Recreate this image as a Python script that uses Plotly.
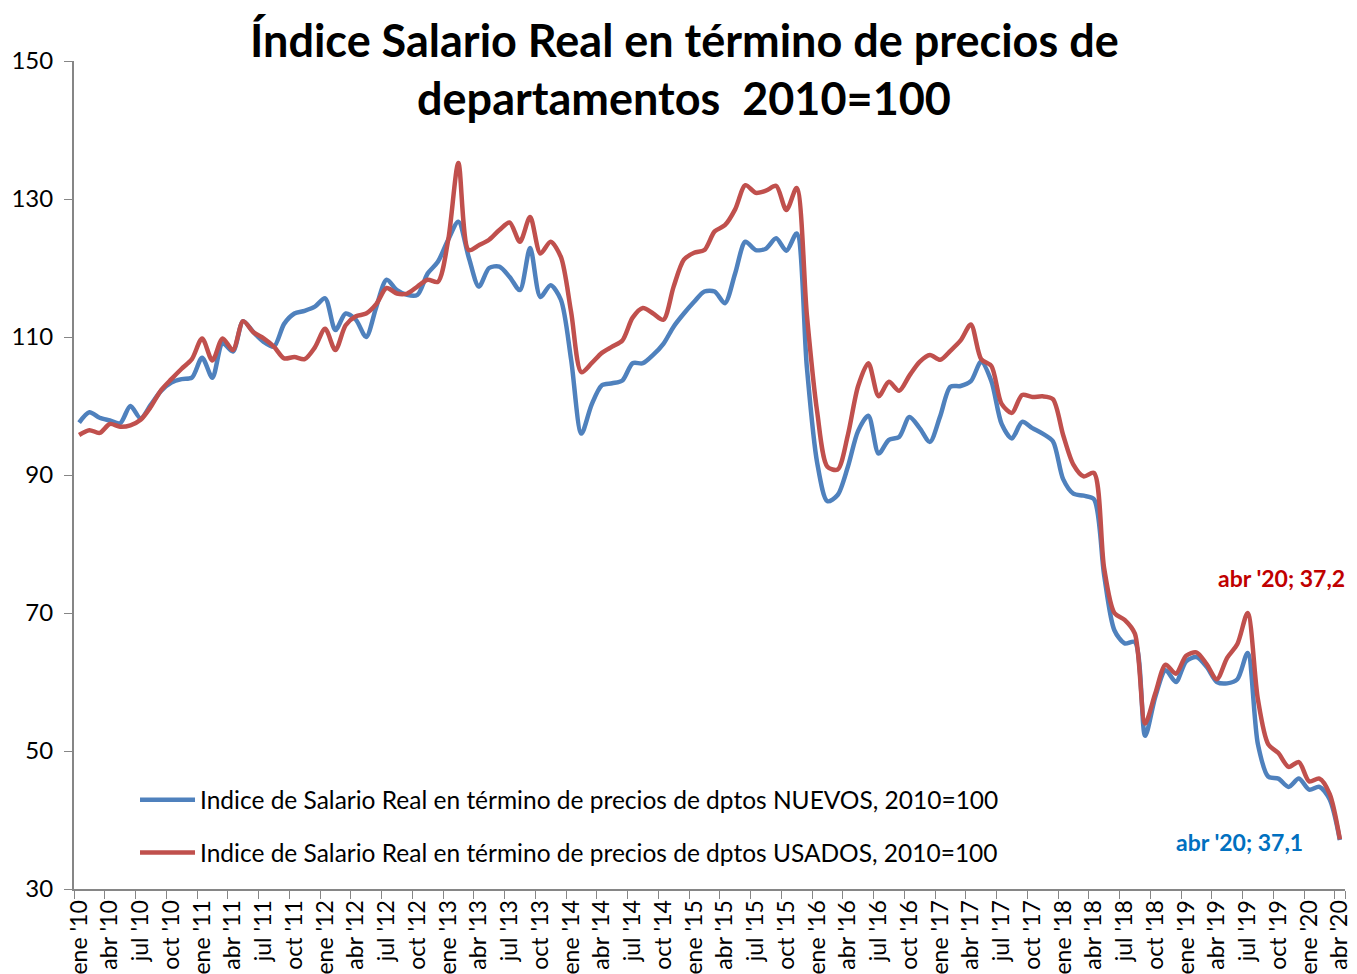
import plotly.graph_objects as go

months_es = ["ene", "feb", "mar", "abr", "may", "jun", "jul", "ago", "sep", "oct", "nov", "dic"]
years = list(range(2010, 2021))
months = [f"{m} '{str(y)[2:]}" for y in years for m in months_es][:124]

nuevos = [
    97.6, 99.1, 98.3, 97.9, 97.5, 100.0, 98.2, 100.2, 102.2, 103.4, 103.9, 104.1,
    107.0, 104.1, 109.1, 107.9, 112.3, 110.7, 109.3, 108.6, 111.9, 113.4, 113.8, 114.4,
    115.6, 111.0, 113.4, 112.5, 110.0, 114.4, 118.3, 116.8, 116.1, 116.1, 119.2, 120.9,
    124.1, 126.7, 121.6, 117.3, 120.0, 120.2, 118.7, 116.8, 122.9, 115.8, 117.5, 115.4,
    106.7, 96.0, 100.2, 103.0, 103.3, 103.7, 106.2, 106.2, 107.4, 109.0, 111.5, 113.4,
    115.1, 116.6, 116.6, 114.9, 119.2, 123.8, 122.6, 122.8, 124.3, 122.5, 125.0, 105.6,
    91.8, 86.2, 87.1, 91.2, 96.4, 98.6, 93.1, 95.1, 95.5, 98.4, 96.8, 94.8,
    98.5, 102.8, 102.9, 103.6, 106.4, 103.6, 97.4, 95.3, 97.7, 96.8, 96.0, 94.9,
    89.4, 87.3, 87.0, 86.5, 75.5, 67.5, 65.6, 65.8, 52.2, 57.9, 61.7, 60.0,
    63.0, 63.6, 62.2, 60.0, 59.8, 60.4, 64.2, 51.0, 46.3, 46.0, 44.8, 46.0,
    44.4, 44.8, 43.0, 37.1,
]

usados = [
    95.8, 96.5, 96.1, 97.4, 97.0, 97.2, 98.0, 99.9, 102.3, 103.9, 105.4, 106.8,
    109.8, 106.6, 109.8, 108.1, 112.3, 110.7, 109.8, 108.6, 106.9, 107.1, 106.8, 108.5,
    111.2, 108.1, 111.7, 113.0, 113.4, 114.8, 117.1, 116.3, 116.3, 117.3, 118.3, 118.0,
    124.0, 135.2, 122.6, 123.3, 124.1, 125.5, 126.6, 123.8, 127.4, 122.1, 123.8, 121.6,
    113.6, 104.9, 106.2, 107.7, 108.6, 109.5, 112.8, 114.2, 113.4, 112.5, 117.3, 121.2,
    122.2, 122.6, 125.3, 126.2, 128.5, 132.0, 130.9, 131.2, 131.9, 128.4, 131.6, 113.2,
    99.2, 91.2, 90.8, 95.8, 102.9, 106.2, 101.4, 103.5, 102.2, 104.4, 106.4, 107.4,
    106.7, 108.0, 109.5, 111.8, 106.8, 105.8, 100.3, 99.0, 101.6, 101.3, 101.4, 101.0,
    95.8, 91.5, 89.8, 90.3, 76.5, 70.0, 69.0, 67.0, 54.0, 58.4, 62.5, 61.2,
    63.8, 64.3, 62.6, 60.4, 63.5, 65.5, 70.0, 57.5, 51.0, 49.7, 47.7, 48.4,
    45.6, 46.0, 43.8, 37.2,
]

name_nuevos = "Indice de Salario Real en término de precios de dptos NUEVOS, 2010=100"
name_usados = "Indice de Salario Real en término de precios de dptos USADOS, 2010=100"
title_lines = ["Índice Salario Real en término de precios de", "departamentos  2010=100"]
yticks = [30, 50, 70, 90, 110, 130, 150]

FONT = "Lato"
BLUE = "#4F81BD"
RED = "#C0504D"

fig = go.Figure()
fig.add_trace(go.Scatter(
    x=months, y=nuevos, mode="lines", name=name_nuevos, legendgroup="a",
    line=dict(color=BLUE, width=4.5, shape="spline", smoothing=0.8),
))
fig.add_trace(go.Scatter(
    x=months, y=usados, mode="lines", name=name_usados, legendgroup="b",
    line=dict(color=RED, width=4.5, shape="spline", smoothing=0.8),
))

# data labels on last point
fig.add_annotation(x=months[-1], y=usados[-1], xref="x", yref="y",
                   text=f"abr '20; {str(usados[-1]).replace('.', ',')}",
                   showarrow=False, xshift=-58, yshift=261,
                   font=dict(family=FONT, size=23, color="#C00000", weight="bold"))
fig.add_annotation(x=months[-1], y=nuevos[-1], xref="x", yref="y",
                   text=f"abr '20; {str(nuevos[-1]).replace('.', ',')}",
                   showarrow=False, xshift=-100, yshift=-2,
                   font=dict(family=FONT, size=23, color="#0070C0", weight="bold"))

# title lines
fig.add_annotation(x=0.48, y=1.0254, xref="paper", yref="paper", text=title_lines[0],
                   showarrow=False, yanchor="middle",
                   font=dict(family=FONT, size=45, color="black", weight="bold"))
fig.add_annotation(x=0.48, y=0.9553, xref="paper", yref="paper", text=title_lines[1],
                   showarrow=False, yanchor="middle",
                   font=dict(family=FONT, size=45, color="black", weight="bold"))

fig.update_layout(
    width=1349, height=966,
    margin=dict(l=66, r=12, t=53, b=85, autoexpand=False),
    paper_bgcolor="white", plot_bgcolor="white",
    font=dict(family=FONT, size=24, color="black"),
    showlegend=True,
    legend=dict(x=0.048, y=0.135, xanchor="left", yanchor="top",
                bgcolor="rgba(0,0,0,0)", font=dict(family=FONT, size=24.5, color="black"),
                tracegroupgap=18, itemwidth=55),
)
fig.update_xaxes(
    type="category", tickmode="array", tickvals=months[::3], ticktext=months[::3],
    tickson="boundaries", ticks="outside", ticklen=8, tickcolor="#868686",
    showline=True, linecolor="#868686", linewidth=2, showgrid=False, zeroline=False,
    tickangle=-90, tickfont=dict(family=FONT, size=23), automargin=False,
    range=[-0.5, 123.5],
)
fig.update_yaxes(
    range=[30, 150], tickmode="array", tickvals=yticks,
    ticks="outside", ticklen=8, tickcolor="#868686", ticklabelstandoff=6,
    showline=True, linecolor="#868686", linewidth=2, showgrid=False, zeroline=False,
    tickfont=dict(family=FONT, size=24), automargin=False,
)

fig.write_html("out.html")
